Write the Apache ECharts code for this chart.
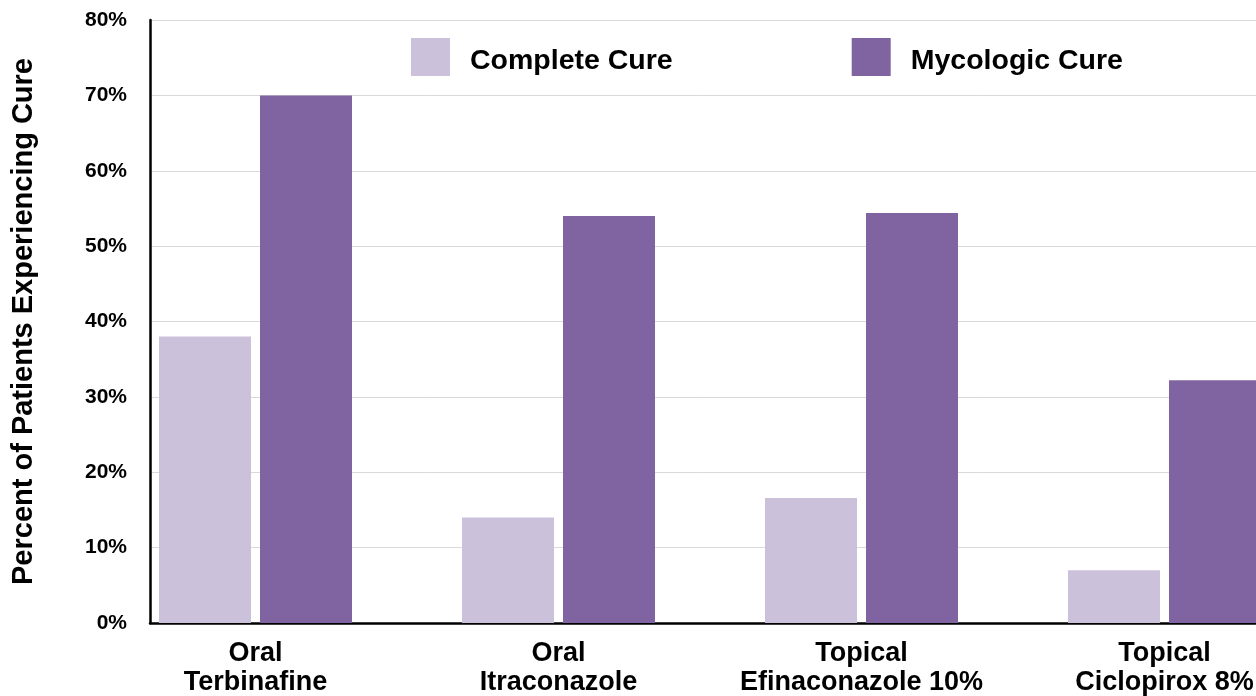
<!DOCTYPE html>
<html>
<head>
<meta charset="utf-8">
<style>
  html, body { margin: 0; padding: 0; background: #ffffff; }
  #chart { width: 1256px; height: 696px; }
</style>
<script src="https://cdn.jsdelivr.net/npm/echarts@6/dist/echarts.min.js"></script>
</head>
<body>
<div id="chart"></div>
<script>
// Treatments compared on the category axis
const treatments = [
  'Oral\nTerbinafine',
  'Oral\nItraconazole',
  'Topical\nEfinaconazole 10%',
  'Topical\nCiclopirox 8%'
];
// Percent of patients reaching each outcome
const completeCure = [38, 14, 16.6, 7.0];
const mycologicCure = [70, 54, 54.4, 32.2];
const seriesNames = ['Complete Cure', 'Mycologic Cure'];
const seriesColors = ['#ccc1da', '#8064a2'];

const FONT = '"Liberation Sans", Arial, Helvetica, sans-serif';
const chart = echarts.init(document.getElementById('chart'), null, { renderer: 'canvas' });

const barCommon = {
  type: 'bar',
  barWidth: 92,
  barGap: '9.78%',
  silent: true
};

chart.setOption({
  backgroundColor: '#ffffff',
  animation: false,
  textStyle: { fontFamily: FONT },
  grid: {
    left: 150,
    top: 20,
    width: 1212,
    height: 603,
    containLabel: false,
    outerBoundsMode: 'none'
  },
  legend: {
    data: seriesNames,
    left: 411,
    top: 38,
    padding: 0,
    itemWidth: 39,
    itemHeight: 38,
    itemGap: 179,
    icon: 'rect',
    selectedMode: false,
    formatter: '{t|{name}}',
    textStyle: {
      fontFamily: FONT,
      fontWeight: 'bold',
      fontSize: 28.5,
      color: '#000000',
      padding: [0, 0, 0, 15],
      rich: {
        t: {
          fontFamily: FONT,
          fontWeight: 'bold',
          fontSize: 28.5,
          lineHeight: 30,
          color: '#000000',
          padding: [8, 0, 0, 0]
        }
      }
    }
  },
  xAxis: {
    type: 'category',
    data: treatments,
    boundaryGap: true,
    axisLine: { show: true, lineStyle: { color: '#000000', width: 2.5 } },
    axisTick: { show: false },
    splitLine: { show: false },
    axisLabel: {
      interval: 0,
      margin: 16,
      fontFamily: FONT,
      fontWeight: 'bold',
      fontSize: 27,
      lineHeight: 29,
      color: '#000000',
      padding: [0, 92, 0, 0]
    }
  },
  yAxis: {
    type: 'value',
    min: 0,
    max: 80,
    interval: 10,
    name: 'Percent of Patients Experiencing Cure',
    nameLocation: 'middle',
    nameGap: 112,
    nameTextStyle: {
      fontFamily: FONT,
      fontWeight: 'bold',
      fontSize: 29,
      color: '#000000'
    },
    axisLine: { show: true, lineStyle: { color: '#000000', width: 2.5 } },
    axisTick: { show: false },
    splitLine: { show: true, lineStyle: { color: '#d9d9d9', width: 1 } },
    axisLabel: {
      margin: 23,
      fontFamily: FONT,
      fontWeight: 'bold',
      fontSize: 21,
      color: '#000000',
      padding: [4, 0, 0, 0],
      formatter: '{value}%'
    }
  },
  series: [
    Object.assign({}, barCommon, {
      name: seriesNames[0],
      data: completeCure,
      itemStyle: { color: seriesColors[0] }
    }),
    Object.assign({}, barCommon, {
      name: seriesNames[1],
      data: mycologicCure,
      itemStyle: { color: seriesColors[1] }
    }),
    // empty slot that keeps the open space to the right of each pair
    Object.assign({}, barCommon, {
      name: 'spacer',
      barWidth: 83,
      data: []
    })
  ]
});
</script>
</body>
</html>
